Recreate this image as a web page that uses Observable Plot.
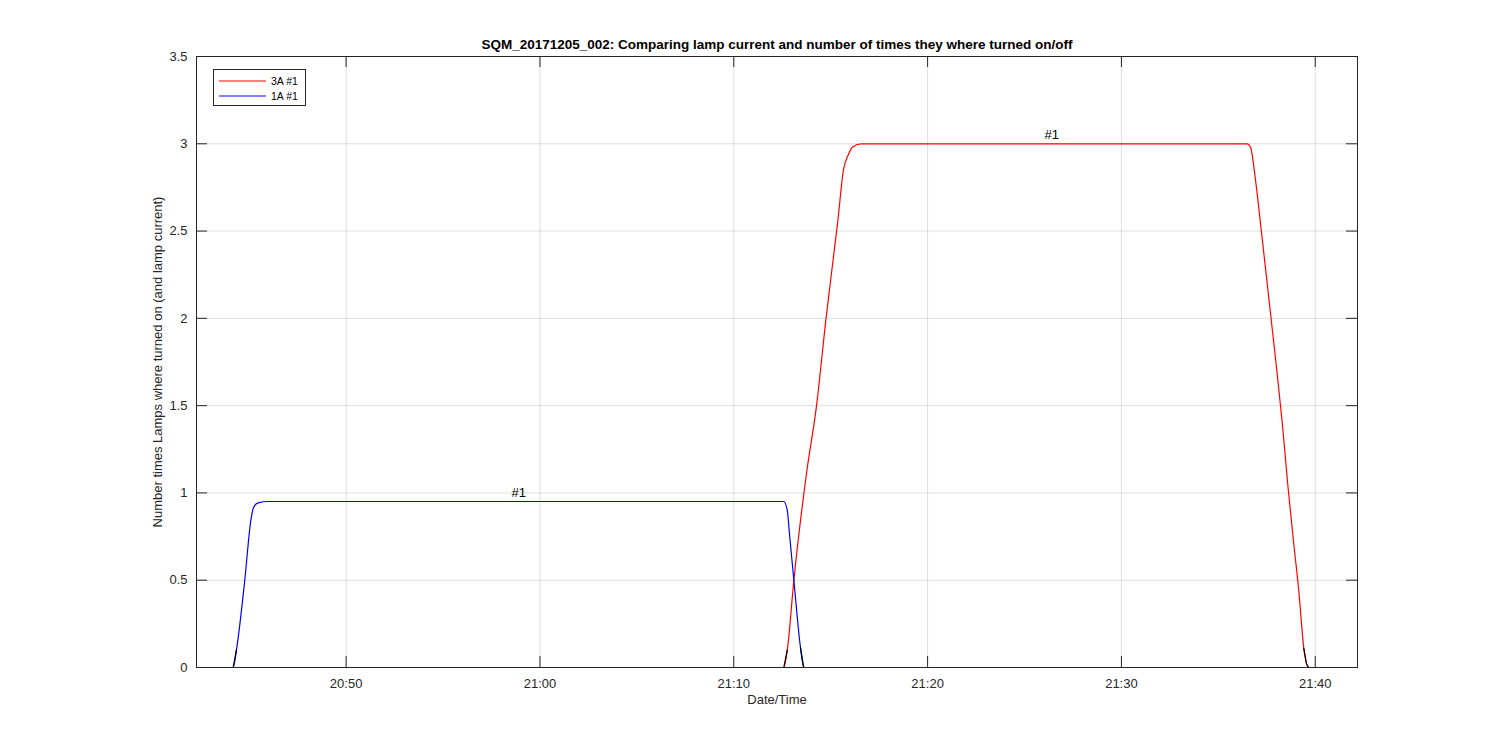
<!DOCTYPE html>
<html>
<head>
<meta charset="utf-8">
<script src="https://cdn.jsdelivr.net/npm/d3@7"></script>
<script src="https://cdn.jsdelivr.net/npm/@observablehq/plot@0.6"></script>
<style>
  html, body { margin: 0; padding: 0; background: #fff; }
  #wrap { position: relative; width: 1500px; height: 750px; font-family: "Liberation Sans", Arial, sans-serif; }
  #legend { position: absolute; left: 213px; top: 69px; width: 93px; height: 37px; border: 1px solid #262626; background: #fff; box-sizing: border-box; font-size: 10.5px; color: #000; }
  #legend .row { position: absolute; left: 5px; height: 14px; display: flex; align-items: center; }
  #legend svg { display: block; }
  #legend span { margin-left: 5px; }
</style>
</head>
<body>
<div id="wrap"></div>
<script>
// Time axis: minutes relative to 2017-12-05 20:50
const baseTime = new Date(2017, 11, 5, 20, 50);
const xDomainMin = [-7.72, 52.18];
const xTickMin = [0, 10, 20, 30, 40, 50];
const yTicks = [0, 0.5, 1, 1.5, 2, 2.5, 3, 3.5];

// 3A #1 (red)
const redMin = [-7.72, 22.58, 22.76, 23.10, 23.75, 24.27, 24.76, 25.37, 25.66, 25.92, 26.12, 26.54, 36.5, 46.49, 46.66, 46.92, 47.21, 47.69, 48.00, 48.30, 48.58, 48.90, 49.15, 49.41, 49.67, 52.18];
const redVal = [0, 0, 0.1, 0.5, 1.11, 1.5, 2.0, 2.56, 2.85, 2.94, 2.98, 3.0, 3.0, 3.0, 2.98, 2.79, 2.51, 2.03, 1.72, 1.40, 1.05, 0.70, 0.44, 0.11, 0, 0];

// 1A #1 (blue)
const blueMin = [-7.72, -5.83, -5.66, -5.23, -4.92, -4.77, -4.54, -4.02, 9.3, 22.58, 22.76, 22.89, 23.10, 23.44, 23.61, 52.18];
const blueVal = [0, 0, 0.1, 0.5, 0.84, 0.918, 0.943, 0.951, 0.951, 0.951, 0.9, 0.746, 0.5, 0.116, 0, 0];

// black (number of times turned on) segments near zero
const blackMin = [-7.72, 52.18, -5.83, -5.66, 22.58, 22.76, 23.44, 23.61, 49.41, 49.55, 49.67];
const blackVal = [0, 0, 0, 0.1, 0, 0.1, 0.116, 0, 0.11, 0.02, 0];
const blackSeg = [0, 0, 1, 1, 2, 2, 3, 3, 4, 4, 4];

// annotations
const annoText = ["#1", "#1"];
const annoMin = [8.9, 36.4];
const annoVal = [0.951, 3.0];

const titleText = "SQM_20171205_002: Comparing lamp current and number of times they where turned on/off";
const xLabel = "Date/Time";
const yLabel = "Number times Lamps where turned on (and lamp current)";

const t = m => new Date(baseTime.getTime() + m * 60000);
const red = redMin.map((m, i) => ({time: t(m), value: redVal[i]}));
const blue = blueMin.map((m, i) => ({time: t(m), value: blueVal[i]}));
const black = blackMin.map((m, i) => ({time: t(m), value: blackVal[i], seg: blackSeg[i]}));
const anno = annoText.map((s, i) => ({time: t(annoMin[i]), value: annoVal[i], text: s}));
const xTicks = xTickMin.map(t);

const W = 1500, H = 750, mL = 196, mR = 143, mT = 56, mB = 83;
const fw = W - mL - mR, fh = H - mT - mB, tk = 11;
const ink = "#262626";

const chart = Plot.plot({
  width: W, height: H,
  marginLeft: mL, marginRight: mR, marginTop: mT, marginBottom: mB,
  style: {fontFamily: "'Liberation Sans', Arial, sans-serif", fontSize: "13px", color: ink, background: "#fff", overflow: "visible"},
  x: {type: "time", domain: xDomainMin.map(t)},
  y: {domain: [0, 3.5]},
  marks: [
    Plot.gridX(xTicks, {stroke: "#000", strokeOpacity: 0.13}),
    Plot.gridY(yTicks, {stroke: "#000", strokeOpacity: 0.13}),
    Plot.line(red, {x: "time", y: "value", stroke: "#ff0000", strokeWidth: 1.2, curve: "monotone-x"}),
    Plot.line(blue, {x: "time", y: "value", stroke: "#0000ff", strokeWidth: 1.2, curve: "monotone-x"}),
    Plot.line(black, {x: "time", y: "value", z: "seg", stroke: "#000", strokeWidth: 1.2}),
    Plot.text(anno, {x: "time", y: "value", text: "text", dy: -9, fontSize: 13, fill: "#000"}),
    Plot.frame({stroke: ink}),
    Plot.ruleX(xTicks, {x: d => d, insetTop: fh - tk, stroke: ink}),
    Plot.ruleX(xTicks, {x: d => d, insetBottom: fh - tk, stroke: ink}),
    Plot.ruleY(yTicks, {y: d => d, insetRight: fw - tk, stroke: ink}),
    Plot.ruleY(yTicks, {y: d => d, insetLeft: fw - tk, stroke: ink}),
    Plot.axisX(xTicks, {tickSize: 0, tickPadding: 11, tickFormat: d3.timeFormat("%H:%M"), label: null, fontSize: 13, fill: ink}),
    Plot.axisY(yTicks, {tickSize: 0, tickPadding: 9, tickFormat: d => String(d), label: null, fontSize: 13, fill: ink}),
    Plot.text([xLabel], {frameAnchor: "bottom", dy: 36, fontSize: 13, fill: ink}),
    Plot.text([yLabel], {frameAnchor: "left", dx: -39, rotate: -90, textAnchor: "middle", fontSize: 13, fill: ink}),
    Plot.text([titleText], {frameAnchor: "top", dy: -17, fontSize: 13.5, fontWeight: "bold", fill: "#000"})
  ]
});

const wrap = document.getElementById("wrap");
wrap.appendChild(chart);

const legendItems = [["3A #1", "#ff0000"], ["1A #1", "#0000ff"]];
const lg = document.createElement("div");
lg.id = "legend";
legendItems.forEach(([label, color], i) => {
  const row = document.createElement("div");
  row.className = "row";
  row.style.top = (4 + i * 15) + "px";
  row.innerHTML = `<svg width="47" height="4"><line x1="0" y1="2" x2="47" y2="2" stroke="${color}" stroke-width="1.2"/></svg><span>${label}</span>`;
  lg.appendChild(row);
});
wrap.appendChild(lg);
</script>
</body>
</html>
